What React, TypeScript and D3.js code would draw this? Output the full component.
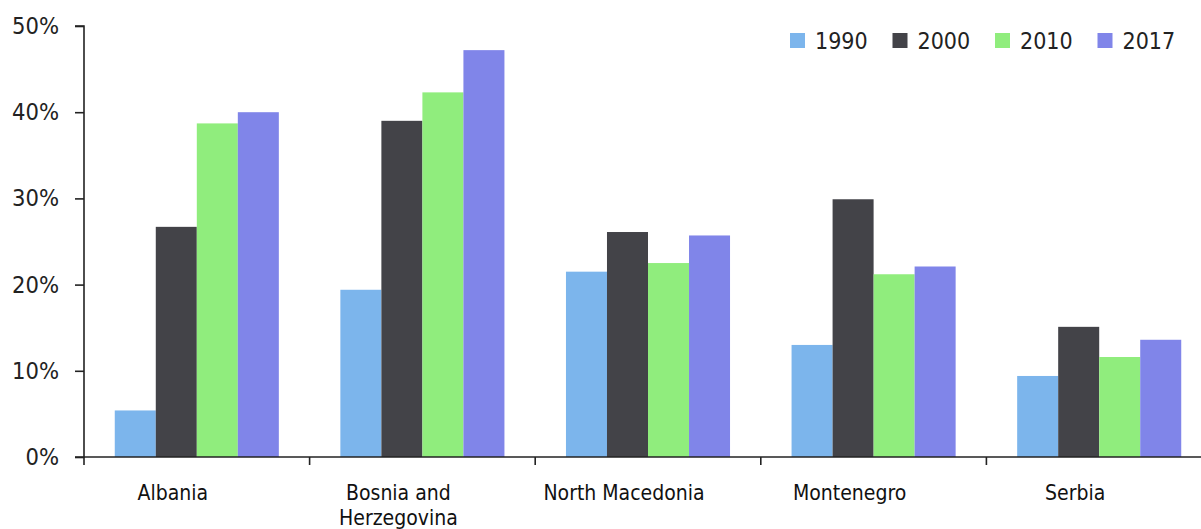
import * as d3 from 'd3';
import React, { useEffect, useRef } from 'react';

const categories = ['Albania', 'Bosnia and Herzegovina', 'North Macedonia', 'Montenegro', 'Serbia'];
const categoryLines = [['Albania'], ['Bosnia and', 'Herzegovina'], ['North Macedonia'], ['Montenegro'], ['Serbia']];
const years = ['1990', '2000', '2010', '2017'];

// shares in percent, per year, in category order
const values1990 = [5.4, 19.4, 21.5, 13.0, 9.4];
const values2000 = [26.7, 39.0, 26.1, 29.9, 15.1];
const values2010 = [38.7, 42.3, 22.5, 21.2, 11.6];
const values2017 = [40.0, 47.2, 25.7, 22.1, 13.6];

const yTicks = [0, 10, 20, 30, 40, 50];

const COLORS: Record<string, string> = {
  '1990': '#7cb5ec',
  '2000': '#434348',
  '2010': '#90ed7d',
  '2017': '#8085e9',
};

const FONT = "'DejaVu Sans Condensed', 'DejaVu Sans', sans-serif";

const App: React.FC = () => {
  const svgRef = useRef<SVGSVGElement>(null);

  useEffect(() => {
    if (!svgRef.current) return;
    const width = 1201;
    const height = 529;

    const series = [values1990, values2000, values2010, values2017];
    const rows = categories.map((c, i) => ({
      category: c,
      bars: years.map((y, j) => ({ year: y, value: series[j][i] })),
    }));

    const svg = d3.select(svgRef.current)
      .attr('width', width)
      .attr('height', height);
    svg.selectAll('*').remove();

    const left = 84;
    const bottom = 457;
    const top = 26;
    const step = 225.6;

    const x0 = d3.scaleBand<string>()
      .domain(categories)
      .range([left, left + step * categories.length])
      .padding(0);

    const x1 = d3.scaleBand<string>()
      .domain(years)
      .range([0, x0.bandwidth()])
      .paddingInner(0)
      .paddingOuter(0.75);

    const y = d3.scaleLinear()
      .domain([0, 50])
      .range([bottom, top]);

    // bars
    const groups = svg.append('g')
      .selectAll('g')
      .data(rows)
      .join('g')
      .attr('transform', d => `translate(${x0(d.category)},0)`);

    groups.selectAll('rect')
      .data(d => d.bars)
      .join('rect')
      .attr('x', d => x1(d.year)!)
      .attr('y', d => y(d.value))
      .attr('width', x1.bandwidth())
      .attr('height', d => bottom - y(d.value))
      .attr('fill', d => COLORS[d.year]);

    // y axis
    const yAxis = svg.append('g')
      .attr('transform', `translate(${left},0)`)
      .call(d3.axisLeft(y).tickValues(yTicks).tickSize(9).tickPadding(16).tickFormat(d => `${d}%`));
    yAxis.select('.domain')
      .attr('stroke', '#222')
      .attr('stroke-width', 1.6)
      .attr('d', `M-9,${top}H0V${bottom}H-9`);
    yAxis.selectAll('.tick line').attr('stroke', '#222').attr('stroke-width', 1.6);
    yAxis.selectAll('.tick text')
      .attr('fill', '#222')
      .style('font-family', FONT)
      .style('font-stretch', 'condensed')
      .style('font-size', '23.5px');

    // x axis
    const xAxis = svg.append('g')
      .attr('transform', `translate(0,${bottom})`);
    xAxis.append('line')
      .attr('x1', left)
      .attr('x2', width)
      .attr('stroke', '#222')
      .attr('stroke-width', 1.6);
    xAxis.selectAll('line.tick')
      .data(categories)
      .join('line')
      .attr('class', 'tick')
      .attr('x1', d => x0(d)!)
      .attr('x2', d => x0(d)!)
      .attr('y1', 0)
      .attr('y2', 8)
      .attr('stroke', '#222')
      .attr('stroke-width', 1.6);

    const labels = xAxis.selectAll('text')
      .data(categories)
      .join('text')
      .attr('text-anchor', 'middle')
      .attr('fill', '#111')
      .style('font-family', FONT)
      .style('font-stretch', 'condensed')
      .style('font-size', '21px');
    labels.each(function (d, i) {
      const cx = x0(d)! + x0.bandwidth() / 2 - 24;
      d3.select(this).selectAll('tspan')
        .data(categoryLines[i])
        .join('tspan')
        .attr('x', cx)
        .attr('y', (_, k) => 43 + k * 25)
        .text(t => t);
    });

    // legend
    const legend = svg.append('g')
      .attr('transform', 'translate(790,33)');
    const items = legend.selectAll('g')
      .data(years)
      .join('g')
      .attr('transform', (_, i) => `translate(${i * 102.5},0)`);
    items.append('rect')
      .attr('width', 15)
      .attr('height', 15)
      .attr('fill', d => COLORS[d]);
    items.append('text')
      .attr('x', 25)
      .attr('y', 16)
      .attr('fill', '#222')
      .style('font-family', FONT)
      .style('font-stretch', 'condensed')
      .style('font-size', '23px')
      .text(d => d);
  }, []);

  return (
    <div style={{ position: 'absolute', left: 0, top: 0, background: '#fff' }}>
      <svg ref={svgRef} style={{ display: 'block' }} />
    </div>
  );
};

export default App;
